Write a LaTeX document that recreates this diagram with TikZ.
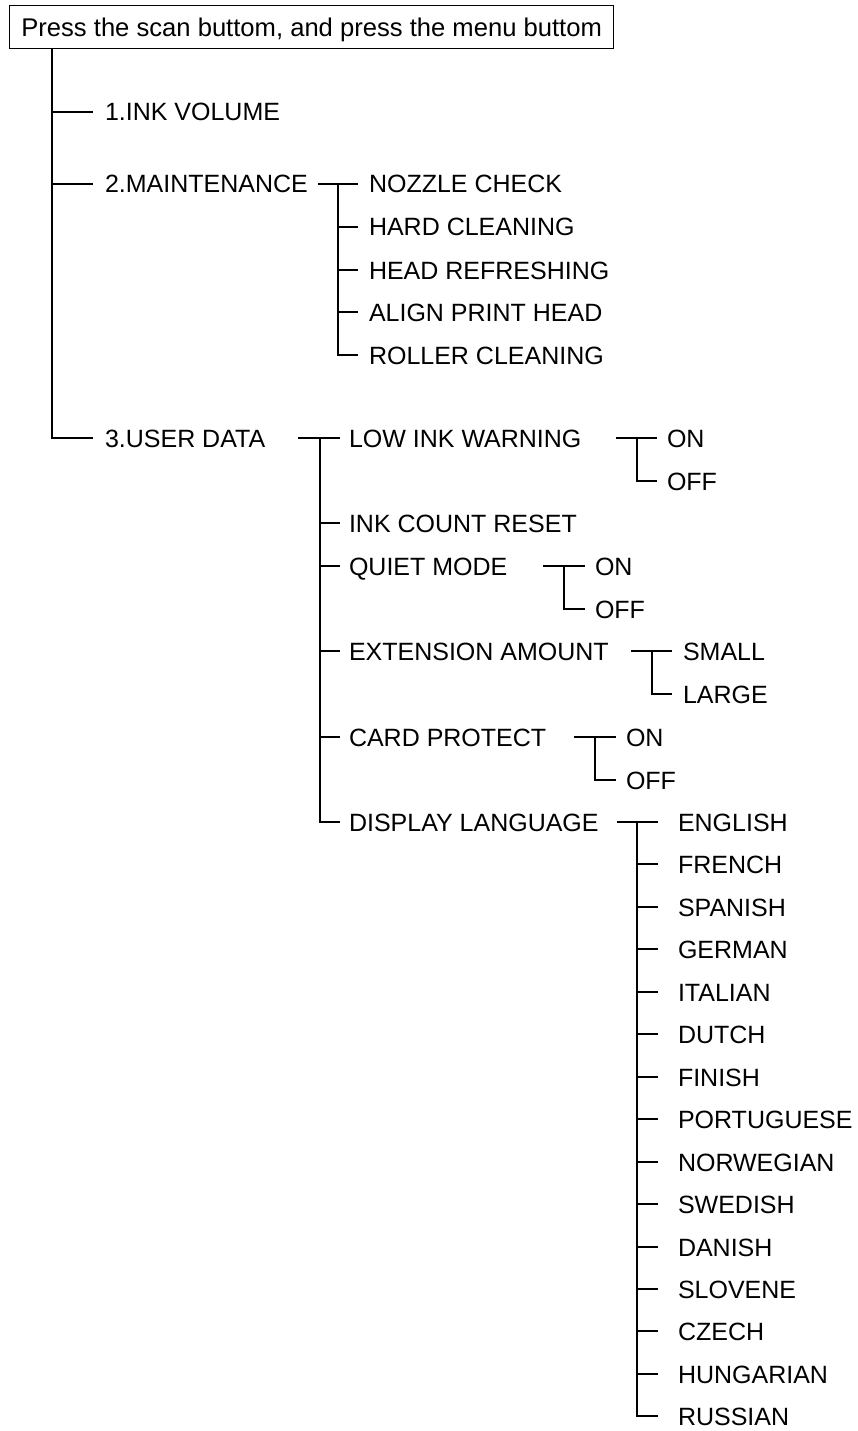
\documentclass[tikz,border=0pt]{standalone}
\usepackage{fontspec}
\setmainfont{Liberation Sans}
\begin{document}
\begin{tikzpicture}[x=1pt,y=-1pt,
  ln/.style={line width=1.8pt},
  item/.style={anchor=west, inner xsep=#1, inner ysep=0pt, outer sep=0pt,
    text height=18pt, text depth=0pt, font=\fontsize{25}{30}\selectfont},
  item/.default=10pt,
  titlebox/.style={draw, line width=1.3pt, anchor=north west, inner xsep=0pt,
    inner ysep=0pt, minimum width=604pt, minimum height=43pt, text height=18pt,
    text depth=0pt, font=\fontsize{25.6}{30}\selectfont}]
\useasboundingbox (0,0) rectangle (858,1431);

% title
\node[titlebox] (top) at (9,5) {Press the scan buttom, and press the menu buttom};
\coordinate (m0) at ([xshift=43pt]top.south west);

% level 1
\node[item=12pt] (ink) at (93,112) {1.INK VOLUME};
\node[item=12pt] (mnt) at (93,184) {2.MAINTENANCE};
\node[item=12pt] (usr) at (93,438) {3.USER DATA};
\draw[ln] (m0) |- (usr.west);
\draw[ln] (m0 |- ink.west) -- (ink.west);
\draw[ln] (m0 |- mnt.west) -- (mnt.west);

% maintenance
\node[item=11pt] (nz) at (358,184) {NOZZLE CHECK};
\node[item=11pt] (hc) at (358,227) {HARD CLEANING};
\node[item=11pt] (hr) at (358,270) {HEAD REFRESHING};
\node[item=11pt] (ap) at (358,312) {ALIGN PRINT HEAD};
\node[item=11pt] (rc) at (358,355) {ROLLER CLEANING};
\coordinate (mS) at (318,184);
\coordinate (mV) at (338,184);
\draw[ln] (mS) -- (nz.west);
\draw[ln] (mV) |- (rc.west);
\foreach \n in {hc,hr,ap} \draw[ln] (mV |- \n.west) -- (\n.west);

% user data
\node[item=9pt] (lw) at (340,438) {LOW INK WARNING};
\node[item=9pt] (ic) at (340,523) {INK COUNT RESET};
\node[item=9pt] (qm) at (340,566) {QUIET MODE};
\node[item=9pt] (ea) at (340,651) {EXTENSION AMOUNT};
\node[item=9pt] (cp) at (340,737) {CARD PROTECT};
\node[item=9pt] (dl) at (340,822) {DISPLAY LANGUAGE};
\coordinate (uS) at (298,438);
\coordinate (uV) at (320,438);
\draw[ln] (uS) -- (lw.west);
\draw[ln] (uV) |- (dl.west);
\foreach \n in {ic,qm,ea,cp} \draw[ln] (uV |- \n.west) -- (\n.west);

% low ink warning
\node[item=10pt] (lwon) at (657,438) {ON};
\node[item=10pt] (lwoff) at (657,481) {OFF};
\coordinate (lwS) at (616,438);
\coordinate (lwV) at (637,438);
\draw[ln] (lwS) -- (lwon.west);
\draw[ln] (lwV) |- (lwoff.west);

% quiet mode
\node[item=10pt] (qmon) at (585,566) {ON};
\node[item=10pt] (qmoff) at (585,609) {OFF};
\coordinate (qmS) at (543,566);
\coordinate (qmV) at (564,566);
\draw[ln] (qmS) -- (qmon.west);
\draw[ln] (qmV) |- (qmoff.west);

% extension amount
\node[item=11pt] (eas) at (672,651) {SMALL};
\node[item=11pt] (eal) at (672,694) {LARGE};
\coordinate (eaS) at (631,651);
\coordinate (eaV) at (652,651);
\draw[ln] (eaS) -- (eas.west);
\draw[ln] (eaV) |- (eal.west);

% card protect
\node[item=10pt] (cpon) at (616,737) {ON};
\node[item=10pt] (cpoff) at (616,780) {OFF};
\coordinate (cpS) at (574,737);
\coordinate (cpV) at (595,737);
\draw[ln] (cpS) -- (cpon.west);
\draw[ln] (cpV) |- (cpoff.west);

% display language
\foreach \l/\y [count=\i from 0] in {ENGLISH/822,FRENCH/864,SPANISH/907,GERMAN/949,ITALIAN/992,DUTCH/1034,FINISH/1077,PORTUGUESE/1119,NORWEGIAN/1162,SWEDISH/1204,DANISH/1247,SLOVENE/1289,CZECH/1331,HUNGARIAN/1374,RUSSIAN/1416}
  \node[item=20pt] (lang\i) at (658,\y) {\l};
\coordinate (dlS) at (617,822);
\coordinate (dlV) at (637,822);
\draw[ln] (dlS) -- (lang0.west);
\draw[ln] (dlV) |- (lang14.west);
\foreach \i in {1,...,13} \draw[ln] (dlV |- lang\i.west) -- (lang\i.west);
\end{tikzpicture}
\end{document}
